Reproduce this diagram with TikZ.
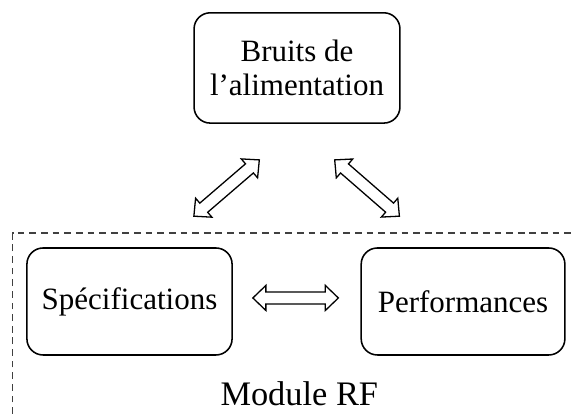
\documentclass[tikz,border=0pt]{standalone}
\usepackage{fontspec}
\setmainfont{Liberation Serif}
\usetikzlibrary{calc}
\usetikzlibrary{positioning}

\tikzset{
  bloc/.style={draw, rounded corners=0.22cm, line width=0.6pt, align=center, inner sep=0pt, font=\fontsize{12}{13.2}\selectfont},
  cadre/.style={draw=black!75, line width=0.5pt, dash pattern=on 2.6pt off 1.9pt},
  fleche/.style={draw, line width=0.5pt, line join=miter, fill=white}
}

% open double-headed arrow between two named points
\newcommand{\dualarrow}[2]{%
  \coordinate (#1-b) at ($(#1)!0.177cm!(#2)$);
  \coordinate (#2-b) at ($(#2)!0.177cm!(#1)$);
  \draw[fleche] (#1) -- ($(#1-b)!0.17cm!90:(#2)$) -- ($(#1-b)!0.082cm!90:(#2)$)
    -- ($(#2-b)!0.082cm!-90:(#1)$) -- ($(#2-b)!0.17cm!-90:(#1)$) -- (#2)
    -- ($(#2-b)!0.17cm!90:(#1)$) -- ($(#2-b)!0.082cm!90:(#1)$)
    -- ($(#1-b)!0.082cm!-90:(#2)$) -- ($(#1-b)!0.17cm!-90:(#2)$) -- cycle;}

\begin{document}
\begin{tikzpicture}
\useasboundingbox (0,0) rectangle (7.806,5.630);

\draw[cadre] (0.173,0) -- (0.173,2.462) -- (7.806,2.462);

\node[bloc, minimum width=2.80cm, minimum height=1.50cm] (bruits) at (4.039,4.706) {Bruits de\\l’alimentation};
\node[bloc, minimum width=2.79cm, minimum height=1.455cm] (spec) at (1.761,1.530) {Spécifications};
\node[bloc, minimum width=2.77cm, minimum height=1.455cm] (perf) at (6.297,1.530) {Performances};
\node[font=\fontsize{13.3}{15}\selectfont, anchor=base] (module) at (4.07,0.122) {Module RF};

\coordinate (g1) at ($(spec.north east)+(-0.530,0.422)$);
\coordinate (g2) at ($(bruits.south west)+(0.898,-0.490)$);
\coordinate (d1) at ($(bruits.south east)+(-0.898,-0.490)$);
\coordinate (d2) at ($(perf.north west)+(0.530,0.422)$);
\coordinate (h1) at ($(spec.east)+(0.272,0.048)$);
\coordinate (h2) at ($(perf.west)+(-0.300,0.048)$);

\dualarrow{g1}{g2}
\dualarrow{d1}{d2}
\dualarrow{h1}{h2}

\end{tikzpicture}
\end{document}
